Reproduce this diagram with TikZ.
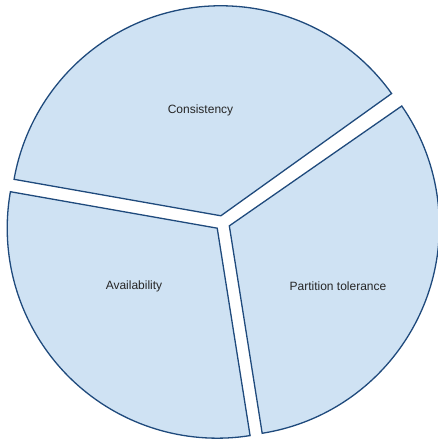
\documentclass[tikz,border=0pt]{standalone}
\usepackage{fontspec}
\setmainfont{Liberation Sans}
\usetikzlibrary{calc}
\definecolor{slicefill}{HTML}{CFE2F3}
\definecolor{slicedraw}{HTML}{1F4A7C}
\begin{document}
\begin{tikzpicture}[x=1pt,y=1pt,
  slice/.style={fill=slicefill,draw=slicedraw,line width=1.3pt,line join=miter},
  lbl/.style={font=\fontsize{12}{14}\selectfont,text=black!85}]
\useasboundingbox (0,0) rectangle (437,441);
\def\R{210}
\coordinate (O) at (222.5,218);
% apexes (exploded along bisectors)
\coordinate (ac) at ($(O)+(102.75:7.4)$);
\coordinate (aa) at ($(O)+(224.5:7.4)$);
\coordinate (ap) at ($(O)+(337.25:7.4)$);
% Consistency slice
\draw[slice] (ac) -- ++(35.6:\R) arc[start angle=35.6,end angle=170,radius=\R] -- cycle;
% Availability slice
\draw[slice] (aa) -- ++(170:\R) arc[start angle=170,end angle=279,radius=\R] -- cycle;
% Partition tolerance slice
\draw[slice] (ap) -- ++(279:\R) arc[start angle=279,end angle=394.8,radius=\R] -- cycle;
% labels
\node[lbl] (lc) at (200.5,331) {Consistency};
\node[lbl] (la) at (134,155) {Availability};
\node[lbl] (lp) at (338,155) {Partition tolerance};
\end{tikzpicture}
\end{document}
